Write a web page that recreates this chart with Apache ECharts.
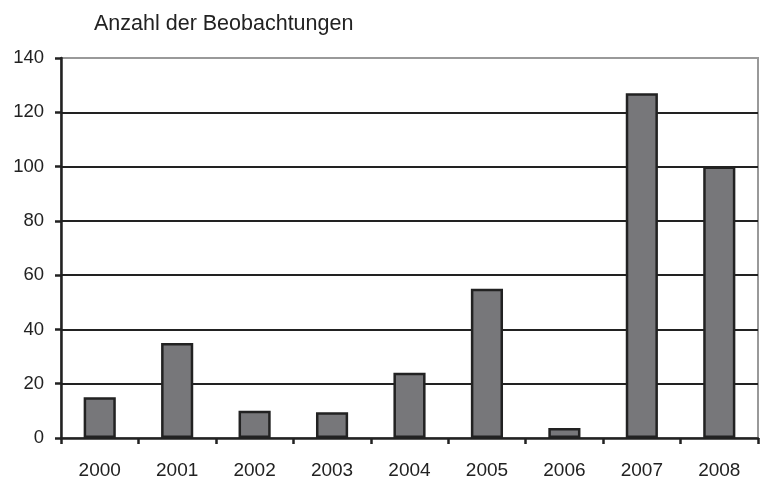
<!DOCTYPE html>
<html><head><meta charset="utf-8">
<script src="https://cdn.jsdelivr.net/npm/echarts@6/dist/echarts.min.js"></script>
<style>html,body{margin:0;padding:0;background:#fff}#c{width:760px;height:477px}</style>
</head><body><div id="c"></div>
<script>
const categories = ['2000','2001','2002','2003','2004','2005','2006','2007','2008'];
const values = [15, 35, 10, 9.5, 24, 55, 3.7, 127, 100];
const yTicks = [0, 20, 40, 60, 80, 100, 120, 140];
const title = 'Anzahl der Beobachtungen';

const chart = echarts.init(document.getElementById('c'), null, {renderer: 'canvas'});
chart.setOption({
  animation: false,
  backgroundColor: '#fff',
  textStyle: {fontFamily: 'Liberation Sans, Arial, sans-serif'},
  title: {text: title, left: 89, top: 8, textStyle: {fontSize: 21.5, fontWeight: 'normal', color: '#222', fontFamily: 'Liberation Sans, Arial, sans-serif'}},
  grid: {left: 61, right: 2, top: 58, bottom: 39, show: true, borderColor: '#999', borderWidth: 2, backgroundColor: 'transparent', outerBoundsMode: 'none', containLabel: false},
  xAxis: {
    type: 'category', data: categories,
    axisLine: {lineStyle: {color: '#222', width: 2.5}},
    axisTick: {show: true, length: 6, lineStyle: {color: '#222', width: 2.5}},
    axisLabel: {fontSize: 19, color: '#222', margin: 23}
  },
  yAxis: {
    type: 'value', min: yTicks[0], max: yTicks[yTicks.length - 1], interval: 20,
    axisLine: {show: true, lineStyle: {color: '#222', width: 2.5}},
    axisTick: {show: true, length: 6, lineStyle: {color: '#222', width: 2.5}},
    axisLabel: {fontSize: 18.5, color: '#222', margin: 17},
    splitLine: {show: true, showMinLine: false, showMaxLine: false, lineStyle: {color: '#222', width: 2}}
  },
  series: [{
    type: 'bar', data: values, barWidth: '41.5%',
    itemStyle: {color: '#77777a', borderColor: '#222', borderWidth: 2.5}
  }]
});
</script></body></html>
